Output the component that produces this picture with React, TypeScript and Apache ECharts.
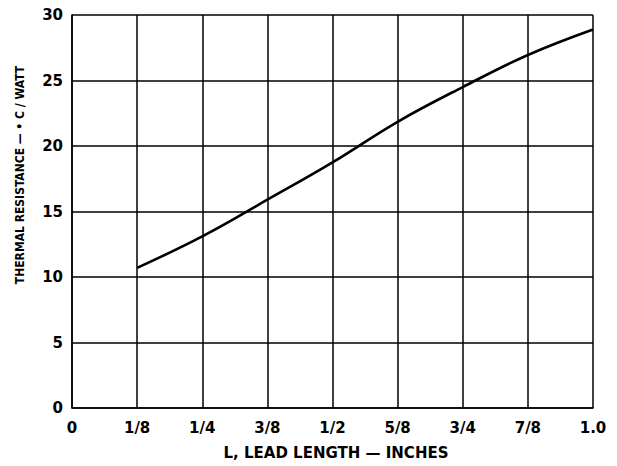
import React, { useEffect, useRef } from "react";
import * as echarts from "echarts";

const xTickLabels = ["0", "1/8", "1/4", "3/8", "1/2", "5/8", "3/4", "7/8", "1.0"];
const leadLength = [0.125, 0.25, 0.375, 0.5, 0.625, 0.75, 0.875, 1.0];
const thermalResistance = [10.7, 13.1, 15.9, 18.75, 21.85, 24.5, 26.95, 28.9];
const xAxisTitle = "L, LEAD LENGTH — INCHES";
const yAxisTitle = "THERMAL RESISTANCE — • C / WATT";

const TICK_FONT = "'DejaVu Sans', Verdana, sans-serif";
const TITLE_FONT = "'DejaVu Sans Condensed', 'DejaVu Sans', sans-serif";

export default function App() {
  const ref = useRef<HTMLDivElement>(null);
  useEffect(() => {
    if (!ref.current) return;
    const chart = echarts.init(ref.current, null, { renderer: "svg" });
    chart.setOption({
      animation: false,
      backgroundColor: "#ffffff",
      grid: { left: 72, right: 24, top: 15, bottom: 58, containLabel: false },
      xAxis: {
        type: "value",
        min: 0,
        max: 1,
        interval: 0.125,
        axisLine: { show: true, lineStyle: { color: "#000", width: 1.5 } },
        axisTick: { show: false },
        splitLine: { show: true, lineStyle: { color: "#000", width: 1.5 } },
        axisLabel: {
          margin: 12,
          color: "#000",
          fontFamily: TICK_FONT,
          fontWeight: "bold",
          fontSize: 15,
          formatter: (v: number) => xTickLabels[Math.round(v * 8)] ?? "",
        },
      },
      yAxis: {
        type: "value",
        min: 0,
        max: 30,
        interval: 5,
        axisLine: { show: true, lineStyle: { color: "#000", width: 1.5 } },
        axisTick: { show: false },
        splitLine: { show: true, lineStyle: { color: "#000", width: 1.5 } },
        axisLabel: {
          margin: 9,
          color: "#000",
          fontFamily: TICK_FONT,
          fontWeight: "bold",
          fontSize: 15,
        },
      },
      graphic: [
        {
          type: "text",
          x: 336,
          y: 453,
          style: {
            text: xAxisTitle,
            fill: "#000",
            font: `bold 15px ${TICK_FONT}`,
            align: "center",
            verticalAlign: "middle",
          },
        },
        {
          type: "text",
          x: 20,
          y: 175,
          rotation: Math.PI / 2,
          style: {
            text: yAxisTitle,
            fill: "#000",
            font: `bold 12px ${TITLE_FONT}`,
            align: "center",
            verticalAlign: "middle",
          },
        },
      ],
      series: [
        {
          type: "line",
          data: leadLength.map((x, i) => [x, thermalResistance[i]]),
          smooth: 0.4,
          showSymbol: false,
          lineStyle: { color: "#000", width: 2.6 },
        },
      ],
    });
    return () => chart.dispose();
  }, []);
  return (
    <div
      ref={ref}
      style={{ position: "absolute", left: 0, top: 0, width: 617, height: 466 }}
    />
  );
}
